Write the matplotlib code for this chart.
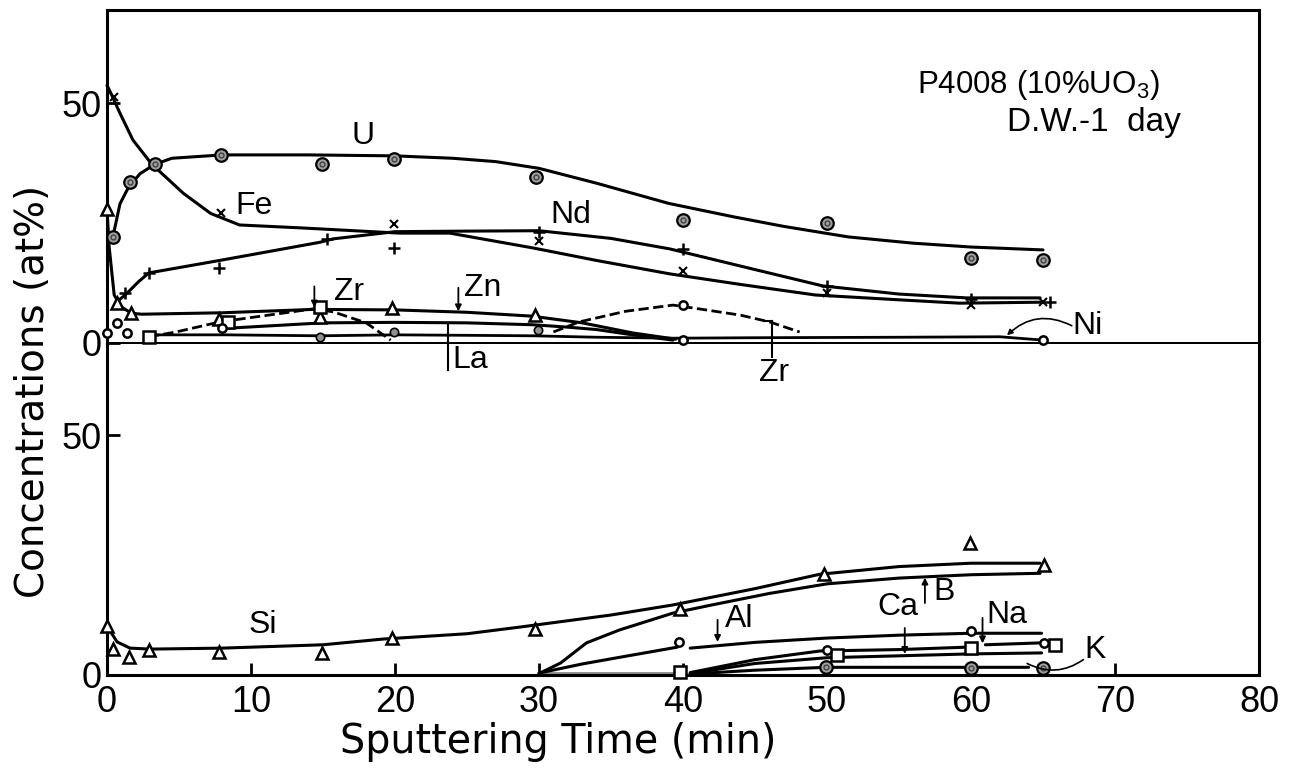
import numpy as np
import matplotlib
matplotlib.use("Agg")
import matplotlib.pyplot as plt

plt.rcParams['font.family'] = ['Liberation Sans', 'DejaVu Sans']
plt.rcParams['mathtext.fontset'] = 'custom'
plt.rcParams['mathtext.rm'] = 'Liberation Sans'

# ---------------- Top panel data ----------------
u_pts_x = [0.4, 1.6, 3.3, 7.9, 14.9, 19.9, 29.8, 40, 50, 60, 65]
u_pts_y = [22, 33.5, 37.3, 39.2, 37.3, 38.3, 34.6, 25.6, 25, 17.7, 17.3]
u_line_x = [0.4, 0.9, 1.5, 2.3, 3.3, 4.5, 8, 14, 20, 24, 27, 30, 34, 39, 43.5, 47, 51.5, 56, 60, 65]
u_line_y = [22, 29, 32.5, 35.3, 37.2, 38.5, 39.2, 39.2, 39, 38.5, 37.8, 36.4, 33.3, 29.1, 26.3, 24.3, 22.1, 20.8, 20, 19.4]

fe_pts_x = [0.5, 7.9, 19.9, 30, 40, 50, 60, 65]
fe_pts_y = [51.3, 27, 24.8, 21.3, 15, 10.4, 8.0, 8.5]
fe_line_x = [0, 0.2, 0.9, 1.8, 3.1, 5.3, 7.2, 9.2, 13.4, 20.3, 23.8, 29.6, 34, 39.1, 44, 49.2, 55, 59.2, 64.8]
fe_line_y = [53.7, 52.5, 47.9, 42.3, 37.3, 31.2, 27, 24.6, 24, 22.9, 22.9, 19.8, 17.2, 14.4, 12.2, 10, 9.0, 8.3, 8.5]

nd_pts_x = [1.25, 2.9, 7.8, 15.3, 19.9, 30, 40, 50, 60, 65.5]
nd_pts_y = [10.4, 14.6, 15.6, 21.7, 19.8, 23.2, 19.6, 11.9, 9.2, 8.5]
nd_line_x = [0.7, 1.4, 2.2, 2.9, 8, 14.8, 15.7, 20, 24, 30, 35, 39.1, 45, 49.7, 55, 59.7, 64.8]
nd_line_y = [8.6, 10.4, 12.8, 14.6, 17.3, 21, 21.7, 23.2, 23.3, 23.4, 21.8, 19.6, 15.3, 11.9, 10.2, 9.4, 9.4]

zn_pts_x = [0, 0.7, 1.7, 7.8, 14.8, 19.8, 29.7]
zn_pts_y = [28, 8.3, 6.2, 5.0, 5.4, 7.3, 5.8]
zn_line_x = [0, 0.15, 0.5, 1.0, 1.7, 2.4, 8, 14.3, 20, 25, 29.5, 33, 36.5, 39.5]
zn_line_y = [28, 20, 10, 7.5, 6.2, 6.0, 6.3, 7.0, 6.9, 6.4, 5.6, 4.2, 2.1, 0.8]

zr_pts_x = [2.9, 8.4, 14.8]
zr_pts_y = [1.3, 4.3, 7.5]
zr_line_x = [2.9, 4.8, 7.4, 8.8, 14.3, 15.7, 18, 19.7, np.nan, 31, 32.8, 36, 39.3, 40.7, 44, 46, 48.1]
zr_line_y = [1.3, 2.3, 4.1, 4.8, 7.1, 6.5, 4.2, 0.6, np.nan, 2.3, 4.4, 6.6, 7.9, 7.3, 5.8, 4.4, 2.3]
zr2_pts_x = [40]
zr2_pts_y = [7.9]

la_line_x = [8.5, 15, 20, 25, 29.6, 32, 34, 36.5, 39.3]
la_line_y = [3.1, 4.2, 4.3, 4.2, 3.8, 3.3, 2.8, 1.7, 0.6]

ni_pts_x = [0, 0.7, 1.4, 8, 40, 65]
ni_pts_y = [2, 4.1, 2, 3.1, 0.6, 0.7]
ni_line_x = [2.7, 8.2, 14.8, 20, 25, 29.6, 34, 39.3, 45, 55, 62, 65]
ni_line_y = [1.7, 1.7, 1.5, 1.7, 1.6, 1.5, 1.2, 1.0, 1.1, 1.2, 1.3, 0.6]

dot_pts_x = [14.8, 19.9, 29.9]
dot_pts_y = [1.3, 2.3, 2.7]

# ---------------- Bottom panel data ----------------
si_pts_x = [0, 0.4, 1.5, 2.9, 7.8, 14.9, 19.8, 29.7, 39.8, 49.8, 59.9, 65.1]
si_pts_y = [10.2, 5.4, 3.8, 5.2, 4.8, 4.6, 7.7, 9.6, 13.8, 21, 27.5, 22.9]
si_line_x = [0, 0.7, 1.6, 3, 8, 15, 19.2, 25, 28.7, 35, 39.3, 45, 49.5, 55, 60, 64.8]
si_line_y = [10.2, 6.9, 5.6, 5.4, 5.6, 6.3, 7.5, 8.6, 10, 12.5, 14.6, 18, 21, 22.6, 23.3, 23.3]

b_line_x = [30, 31.5, 33.3, 35.6, 39.3, 42, 46, 50, 55, 60, 64.8]
b_line_y = [0.3, 2.5, 6.7, 9.4, 12.9, 14.6, 17, 19, 20.2, 20.9, 21.2]

al_pts_x = [39.7, 60, 65.1]
al_pts_y = [6.9, 9.2, 6.7]
al_line_x = [30, 33, 36, 39.6, np.nan, 40.5, 45, 50, 55, 60, 64.9]
al_line_y = [0.4, 2.3, 3.9, 5.8, np.nan, 5.6, 6.8, 7.7, 8.3, 8.7, 8.7]

na_pts_x = [39.8, 50.7, 60, 65.8]
na_pts_y = [0.6, 4.2, 5.6, 6.3]
na_line_x = [40.5, 45, 49.5, 55, 59.7, np.nan, 61, 64.9]
na_line_y = [0.5, 3.2, 5.0, 5.3, 5.8, np.nan, 6.3, 6.7]

ca_pts_x = [50]
ca_pts_y = [5.2]
ca_line_x = [40.5, 45, 50, 55, 60, 64.9]
ca_line_y = [0.3, 2.4, 3.6, 4.0, 4.4, 4.6]

k_pts_x = [49.9, 60, 65]
k_pts_y = [1.7, 1.5, 1.5]
k_line_x = [40.5, 45, 49.9, 55, 60, 64]
k_line_y = [0.2, 1.0, 1.6, 1.6, 1.6, 1.6]

base_line_x = [30, 40]
base_line_y = [0.3, 0.3]

x_ticks = [0, 10, 20, 30, 40, 50, 60, 70, 80]
y_ticks = [0, 50]

# ---------------- Figure ----------------
W, H = 1299, 771
fig = plt.figure(figsize=(W / 100, H / 100), dpi=100)
fig.patch.set_facecolor('white')

def fx(px):
    return px / W

def fy(py):
    return 1 - py / H

ax_t = fig.add_axes([fx(107), fy(343), fx(1259) - fx(107), fy(10) - fy(343)])
ax_b = fig.add_axes([fx(107), fy(675), fx(1259) - fx(107), fy(343) - fy(675)])
ax_t.set_zorder(3)
ax_t.patch.set_visible(False)

TFS = 26
LW = 2.2
for ax, top in ((ax_t, 69.4), (ax_b, 69.2)):
    ax.set_xlim(0, 80)
    ax.set_ylim(0, top)
    for s in ax.spines.values():
        s.set_linewidth(2.2)
    ax.set_yticks(y_ticks)
    ax.set_yticklabels([str(v) for v in y_ticks])
    ax.tick_params(axis='y', direction='in', length=9, width=2, labelsize=TFS, pad=4)
ax_t.spines['bottom'].set_linewidth(1.4)
ax_b.spines['top'].set_linewidth(1.4)
ax_t.set_xticks([])
ax_b.set_xticks(x_ticks)
ax_b.set_xticklabels([str(v) for v in x_ticks])
ax_b.tick_params(axis='x', direction='in', length=9, width=2, labelsize=TFS, pad=7)

def line(ax, x, y, ls='-', lw=LW, color='black'):
    ax.plot(x, y, ls, color=color, lw=lw, solid_capstyle='round', clip_on=False, zorder=2)

def pts(ax, x, y, marker, ms, mfc='white', mew=1.6, mec='black'):
    ax.plot(x, y, linestyle='none', marker=marker, ms=ms, mfc=mfc, mec=mec,
            mew=mew, clip_on=False, zorder=3)

# top panel
line(ax_t, u_line_x, u_line_y)
pts(ax_t, u_pts_x, u_pts_y, 'o', 9, mfc='#a0a0a0', mew=1.6)
pts(ax_t, u_pts_x, u_pts_y, 'o', 3.5, mfc='none', mec='#404040', mew=1.0)
line(ax_t, fe_line_x, fe_line_y)
pts(ax_t, fe_pts_x, fe_pts_y, 'x', 6, mew=1.5)
line(ax_t, nd_line_x, nd_line_y)
pts(ax_t, nd_pts_x, nd_pts_y, '+', 8, mew=1.8)
line(ax_t, zn_line_x, zn_line_y)
pts(ax_t, zn_pts_x, zn_pts_y, '^', 9, mew=1.8)
line(ax_t, zr_line_x, zr_line_y, ls='--', lw=2.0)
pts(ax_t, zr_pts_x, zr_pts_y, 's', 8, mew=1.8)
pts(ax_t, zr2_pts_x, zr2_pts_y, 'o', 6, mew=1.8)
line(ax_t, la_line_x, la_line_y)
line(ax_t, ni_line_x, ni_line_y, lw=2.0)
pts(ax_t, ni_pts_x, ni_pts_y, 'o', 6, mew=1.8)
pts(ax_t, dot_pts_x, dot_pts_y, 'o', 6, mfc='#909090', mew=1.2)

# bottom panel
line(ax_b, base_line_x, base_line_y, lw=3.5, color='#8a8a8a')
line(ax_b, si_line_x, si_line_y)
pts(ax_b, si_pts_x, si_pts_y, '^', 9, mew=1.8)
line(ax_b, b_line_x, b_line_y)
line(ax_b, al_line_x, al_line_y)
pts(ax_b, al_pts_x, al_pts_y, 'o', 6, mew=1.8)
line(ax_b, na_line_x, na_line_y)
pts(ax_b, na_pts_x, na_pts_y, 's', 8, mew=1.8)
line(ax_b, ca_line_x, ca_line_y)
pts(ax_b, ca_pts_x, ca_pts_y, 'o', 6, mew=1.8)
line(ax_b, k_line_x, k_line_y)
pts(ax_b, k_pts_x, k_pts_y, 'o', 9, mfc='#a0a0a0', mew=1.6)
pts(ax_b, k_pts_x, k_pts_y, 'o', 3.5, mfc='none', mec='#404040', mew=1.0)

# element labels
LFS = 23
def lab(ax, x, y, s, ha='center'):
    ax.text(x, y, s, fontsize=LFS, ha=ha, va='center', clip_on=False, zorder=4)

lab(ax_t, 17.8, 43.1, 'U')
lab(ax_t, 8.9, 28.5, 'Fe', ha='left')
lab(ax_t, 32.2, 26.7, 'Nd')
lab(ax_t, 16.8, 10.6, 'Zr')
lab(ax_t, 26.1, 11.5, 'Zn')
lab(ax_t, 25.2, -3.6, 'La')
lab(ax_t, 46.3, -6.2, 'Zr')
lab(ax_t, 68.1, 3.6, 'Ni')
lab(ax_b, 10.8, 10.4, 'Si')
lab(ax_b, 43.9, 11.6, 'Al')
lab(ax_b, 58.1, 17.4, 'B')
lab(ax_b, 54.9, 14.1, 'Ca')
lab(ax_b, 62.5, 12.6, 'Na')
lab(ax_b, 68.6, 5.2, 'K')

arw = dict(arrowstyle='-|>', color='black', lw=1.3, mutation_scale=9, shrinkA=0, shrinkB=0)
def arrow(ax, x, y0, y1):
    ax.annotate('', xy=(x, y1), xytext=(x, y0), arrowprops=arw, annotation_clip=False)

arrow(ax_t, 14.4, 11.8, 7.4)
arrow(ax_t, 24.4, 11.5, 6.6)
ax_t.plot([23.7, 23.7], [4.2, -5.6], color='black', lw=1.5, clip_on=False)
ax_t.plot([46.2, 46.2], [4.5, -3.0], color='black', lw=1.5, clip_on=False)
ax_t.plot([45.6, 46.2], [4.6, 4.6], color='black', lw=1.5, clip_on=False)
ax_t.annotate('', xy=(62.5, 1.6), xytext=(67.0, 3.6),
              arrowprops=dict(arrowstyle='-|>', color='black', lw=1.2, mutation_scale=8,
                              shrinkA=0, shrinkB=0, connectionstyle='arc3,rad=0.35'),
              annotation_clip=False)
arrow(ax_b, 42.4, 11.5, 6.9)
arrow(ax_b, 56.8, 15.0, 20.3)
arrow(ax_b, 55.4, 9.8, 4.4)
arrow(ax_b, 60.8, 11.9, 6.6)
ax_b.annotate('', xy=(63.9, 2.4), xytext=(67.8, 3.2),
              arrowprops=dict(arrowstyle='-', color='black', lw=1.2,
                              shrinkA=0, shrinkB=0, connectionstyle='arc3,rad=-0.3'),
              annotation_clip=False)

# titles / axis labels
fig.text(fx(917), fy(85), 'P4008 (10%UO$_3$)', fontsize=22.5, ha='left', va='center')
fig.text(fx(1007), fy(123), 'D.W.-1  day', fontsize=24, ha='left', va='center')
fig.text(fx(558), fy(742), 'Sputtering Time (min)', fontsize=28.5, ha='center', va='center',
         family=['DejaVu Sans'])
fig.text(fx(33), fy(391), 'Concentrations (at%)', fontsize=28, ha='center', va='center',
         rotation=90, family=['DejaVu Sans'])

fig.savefig('out.png', dpi=100)
